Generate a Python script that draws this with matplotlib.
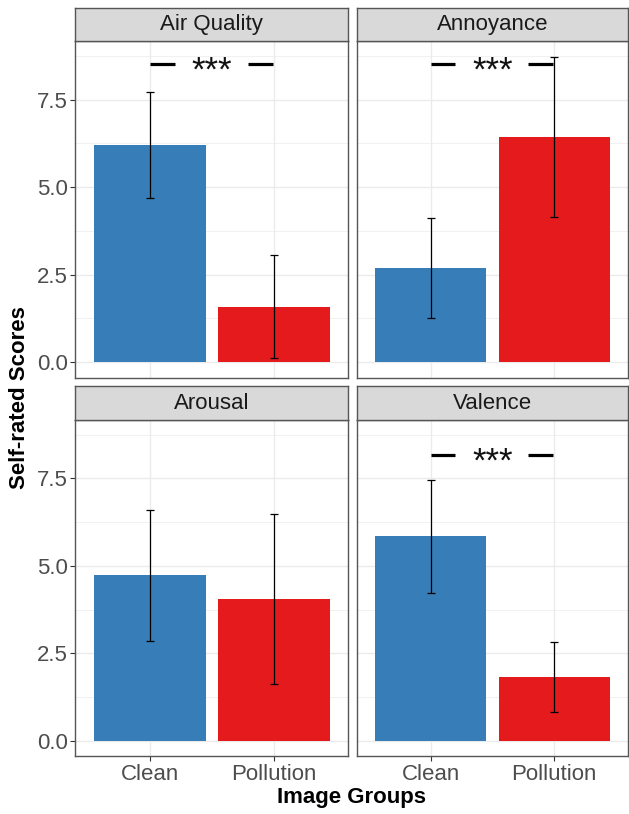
import matplotlib
matplotlib.use("Agg")
import matplotlib.pyplot as plt
from matplotlib.ticker import FixedLocator

plt.rcParams['font.family'] = ['Liberation Sans', 'DejaVu Sans']

measures = ["Air Quality", "Annoyance", "Arousal", "Valence"]
groups = ["Clean", "Pollution"]
clean_mean = [6.21, 2.69, 4.73, 5.84]
clean_sd = [1.51, 1.43, 1.88, 1.62]
poll_mean = [1.59, 6.43, 4.05, 1.81]
poll_sd = [1.46, 2.28, 2.43, 1.00]
sig_labels = ["***", "***", "", "***"]
sig_y = [8.52, 8.52, None, 8.16]
yticks = [0.0, 2.5, 5.0, 7.5]
ytick_labels = ["0.0", "2.5", "5.0", "7.5"]
colors = ["#377EB8", "#E41A1C"]

W, H = 629, 814
fig = plt.figure(figsize=(W / 100, H / 100), dpi=100)

# panel boxes in pixels (left, top, right, bottom)
panel_px = [
    (75.3, 41, 348.3, 377.7),
    (356.7, 41, 628.3, 377.7),
    (75.3, 420, 348.3, 756),
    (356.7, 420, 628.3, 756),
]
strip_px = [
    (8, 41), (8, 41), (386, 420), (386, 420)
]
border_col = "#555555"

for i, m in enumerate(measures):
    l, t, r, b = panel_px[i]
    ax = fig.add_axes([l / W, 1 - b / H, (r - l) / W, (b - t) / H])
    xs = [1, 2]
    means = [clean_mean[i], poll_mean[i]]
    sds = [clean_sd[i], poll_sd[i]]
    ax.set_xlim(0.4, 2.6)
    ax.set_ylim(-0.44, 9.17)
    ax.yaxis.set_major_locator(FixedLocator(yticks))
    ax.yaxis.set_minor_locator(FixedLocator([1.25, 3.75, 6.25, 8.75]))
    ax.xaxis.set_major_locator(FixedLocator(xs))
    ax.grid(True, which='major', color='#EBEBEB', lw=1.0, zorder=0)
    ax.grid(True, which='minor', axis='y', color='#EBEBEB', lw=0.5, zorder=0)
    ax.set_axisbelow(True)
    ax.bar(xs, means, width=0.9, color=colors, zorder=2)
    ax.errorbar(xs, means, yerr=sds, fmt='none', ecolor='black', elinewidth=0.9,
                capsize=2.9, capthick=0.9, zorder=3)
    if sig_labels[i]:
        y = sig_y[i]
        ax.plot([1.0, 1.2], [y, y], color='black', lw=2.3, solid_capstyle='butt', zorder=4)
        ax.plot([1.79, 1.99], [y, y], color='black', lw=2.3, solid_capstyle='butt', zorder=4)
        ax.annotate(sig_labels[i], xy=(1.5, y), xytext=(0, -12), textcoords='offset points',
                    ha='center', va='baseline', fontsize=25, color='#111111', zorder=5)
    for s in ax.spines.values():
        s.set_color(border_col)
        s.set_linewidth(1.0)
    ax.tick_params(axis='both', which='both', length=0)
    if i in (0, 2):
        ax.set_yticklabels(ytick_labels)
        ax.tick_params(axis='y', which='major', length=3.4, width=0.8, color='#333333',
                       labelsize=16, labelcolor='#4D4D4D', pad=2)
    else:
        ax.set_yticklabels([])
    if i in (2, 3):
        ax.set_xticklabels(groups)
        ax.tick_params(axis='x', which='major', length=3.4, width=0.8, color='#333333',
                       labelsize=16, labelcolor='#4D4D4D', pad=2)
    else:
        ax.set_xticklabels([])

    st, sb = strip_px[i]
    sax = fig.add_axes([l / W, 1 - sb / H, (r - l) / W, (sb - st) / H])
    sax.set_facecolor('#D9D9D9')
    sax.set_xticks([])
    sax.set_yticks([])
    for s in sax.spines.values():
        s.set_color(border_col)
        s.set_linewidth(1.0)
    sax.text(0.5, 0.5, m, ha='center', va='center', fontsize=16, color='#1A1A1A',
             transform=sax.transAxes)

fig.text(351.7 / W, 1 - 798 / H, "Image Groups", ha='center', va='center',
         fontsize=16, fontweight='bold', color='black')
fig.text(20 / W, 1 - 398 / H, "Self-rated Scores", ha='center', va='center',
         rotation=90, fontsize=16, fontweight='bold', color='black')

fig.savefig("out.png", dpi=100, facecolor='white')
